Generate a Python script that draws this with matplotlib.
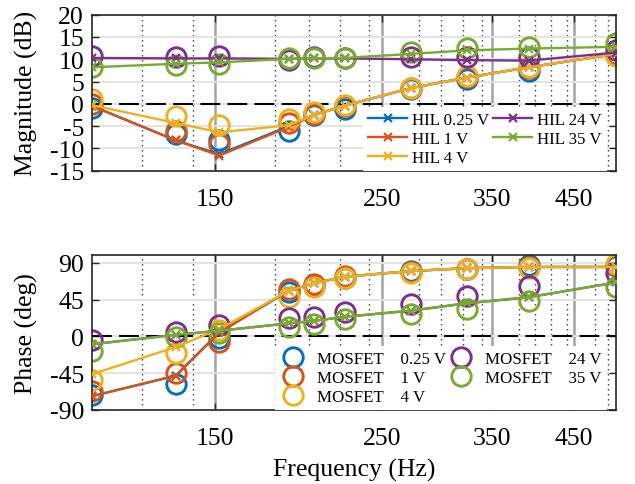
import matplotlib
matplotlib.use("Agg")
import matplotlib.pyplot as plt
from matplotlib.ticker import FixedLocator, NullFormatter, FixedFormatter

plt.rcParams['font.family'] = ['Liberation Serif', 'DejaVu Serif']
plt.rcParams['axes.unicode_minus'] = False

# ---------------- data ----------------
freq = [103, 133, 152, 188, 203, 223, 273, 324, 392, 512]

voltages = ['0.25 V', '1 V', '4 V', '24 V', '35 V']

hil_mag_025 = [-0.5, -8.2, -11.3, -5.0, -2.5, -0.4, 3.5, 5.9, 8.2, 11.2]
hil_mag_1 = [-0.5, -8.2, -11.6, -5.2, -2.5, -0.4, 3.5, 5.9, 8.2, 11.2]
hil_mag_4 = [-0.3, -4.3, -6.4, -4.8, -2.5, -0.4, 3.5, 5.9, 8.2, 11.2]
hil_mag_24 = [10.3, 10.2, 10.2, 10.1, 10.2, 10.2, 10.0, 9.8, 9.7, 11.5]
hil_mag_35 = [8.2, 9.0, 9.3, 10.1, 10.2, 10.3, 11.2, 12.0, 12.4, 12.8]

mos_mag_025 = [-1.0, -6.8, -8.0, -6.0, -2.5, -1.2, 3.3, 5.6, 7.3, 11.0]
mos_mag_1 = [0.0, -6.0, -9.0, -4.3, -2.3, -0.5, 3.5, 6.0, 8.0, 11.2]
mos_mag_4 = [1.0, -2.8, -4.8, -3.5, -1.8, -0.3, 3.5, 6.2, 8.2, 10.8]
mos_mag_24 = [10.8, 10.6, 10.8, 9.8, 10.5, 10.2, 10.5, 10.5, 10.5, 12.0]
mos_mag_35 = [8.2, 8.8, 9.0, 10.2, 10.2, 10.3, 11.6, 12.6, 12.8, 13.6]

hil_ph_025 = [-73, -48, 5, 56, 65, 73, 80, 83.5, 85, 85]
hil_ph_1 = [-73, -48, 5, 56, 65, 73, 80, 83.5, 85, 85]
hil_ph_4 = [-46, -13, 9, 56, 65, 73, 80, 83.5, 85, 85]
hil_ph_24 = [-9.5, 2, 7, 16, 19, 24, 31.5, 40.5, 48, 66]
hil_ph_35 = [-9.5, 2, 7, 16, 19, 24, 31.5, 40.5, 48, 66]

mos_ph_025 = [-72, -58, -2, 54, 62, 72, 80, 83, 88, 86]
mos_ph_1 = [-67, -45, -7, 58, 64, 74, 79, 83, 85, 87]
mos_ph_4 = [-53, -20, 8, 48, 60, 72, 78, 83, 84, 89]
mos_ph_24 = [-4, 5, 14, 23, 24, 30, 40, 50, 62, 78]
mos_ph_35 = [-18, -1, 4, 11, 15, 21, 27, 34, 43, 60]

major_ticks = [150, 250, 350, 450]
minor_ticks = [120, 140, 180, 200, 220, 240, 280, 300, 320, 340,
               380, 400, 420, 440, 480, 500]
mag_ticks = [-15, -10, -5, 0, 5, 10, 15, 20]
ph_ticks = [-90, -45, 0, 45, 90]

colors = ['#0072BD', '#D95319', '#EDB120', '#7E2F8E', '#77AC30']

hil_mag = [hil_mag_025, hil_mag_1, hil_mag_4, hil_mag_24, hil_mag_35]
mos_mag = [mos_mag_025, mos_mag_1, mos_mag_4, mos_mag_24, mos_mag_35]
hil_ph = [hil_ph_025, hil_ph_1, hil_ph_4, hil_ph_24, hil_ph_35]
mos_ph = [mos_ph_025, mos_ph_1, mos_ph_4, mos_ph_24, mos_ph_35]

# ---------------- figure ----------------
W, H = 635, 485
fig = plt.figure(figsize=(W / 100, H / 100), dpi=100)
ax1 = fig.add_axes([92.3 / W, 1 - 171.7 / H, 523.7 / W, 156 / H])
ax2 = fig.add_axes([92.3 / W, 1 - 411 / H, 523.7 / W, 155.3 / H])

FS = 18.5
LFS = 12.2


def style(ax, ylim, yticks):
    ax.set_xscale('log')
    ax.set_xlim(freq[0], freq[-1])
    ax.set_ylim(*ylim)
    ax.xaxis.set_major_locator(FixedLocator(major_ticks))
    ax.xaxis.set_major_formatter(FixedFormatter([str(t) for t in major_ticks]))
    ax.xaxis.set_minor_locator(FixedLocator(minor_ticks))
    ax.xaxis.set_minor_formatter(NullFormatter())
    ax.set_yticks(yticks)
    ax.set_axisbelow(True)
    ax.grid(which='major', axis='y', color='#e3e3e3', lw=1.4)
    ax.grid(which='major', axis='x', color='#a3a3a3', lw=1.8)
    ax.grid(which='minor', axis='x', color='#333333', lw=1.0, ls=(0, (1, 2.6)))
    ax.tick_params(which='major', direction='in', length=5, width=1,
                   labelsize=FS, top=True, right=True, color='#262626')
    ax.tick_params(axis='x', which='major', pad=12.5)
    ax.tick_params(axis='y', which='major', pad=6)
    ax.tick_params(which='minor', length=0)
    for s in ax.spines.values():
        s.set_color('#262626')
        s.set_linewidth(1.2)
    ax.axhline(0, color='black', lw=1.5, ls=(0, (9.5, 3.5)), zorder=1.5)


style(ax1, (-15, 20), mag_ticks)
style(ax2, (-90, 100), ph_ticks)

hil_handles = []
mos_handles = []
for i in range(5):
    ax1.plot(freq, mos_mag[i], 'o', ms=14, mew=2.1, mfc='none', mec=colors[i], zorder=2)
    ax2.plot(freq, mos_ph[i], 'o', ms=14, mew=2.1, mfc='none', mec=colors[i], zorder=2)
for i in range(5):
    h, = ax1.plot(freq, hil_mag[i], '-x', color=colors[i], lw=1.7, ms=6, mew=1.6,
                  zorder=3, label='HIL ' + voltages[i])
    hil_handles.append(h)
    ax2.plot(freq, hil_ph[i], '-x', color=colors[i], lw=1.7, ms=6, mew=1.6, zorder=3)
for i in range(5):
    m, = ax2.plot([], [], 'o', ms=14, mew=2.1, mfc='none', mec=colors[i],
                  label='MOSFET    ' + voltages[i])
    mos_handles.append(m)

leg1 = ax1.legend(handles=hil_handles, ncol=2, loc='lower right',
                  bbox_to_anchor=(607 / W, 1 - 172 / H), bbox_transform=fig.transFigure,
                  borderaxespad=0, fontsize=LFS, frameon=True, fancybox=False,
                  edgecolor='none', facecolor='white', framealpha=1,
                  handlelength=2.3, handletextpad=0.3, columnspacing=0.2,
                  labelspacing=0.18, borderpad=0.3)
leg2 = ax2.legend(handles=mos_handles, ncol=2, loc='lower right',
                  bbox_to_anchor=(607 / W, 1 - 411 / H), bbox_transform=fig.transFigure,
                  borderaxespad=0, fontsize=LFS, frameon=True, fancybox=False,
                  edgecolor='none', facecolor='white', framealpha=1,
                  handlelength=1.5, handletextpad=0.7, columnspacing=0.1,
                  labelspacing=0.18, borderpad=0.3)

ax1.set_ylabel('Magnitude (dB)', fontsize=FS)
ax2.set_ylabel('Phase (deg)', fontsize=FS)
ax2.set_xlabel('Frequency (Hz)', fontsize=FS, labelpad=6)
ax1.yaxis.set_label_coords(-0.103, 0.5)
ax2.yaxis.set_label_coords(-0.103, 0.5)

fig.savefig('out.png', dpi=100)
